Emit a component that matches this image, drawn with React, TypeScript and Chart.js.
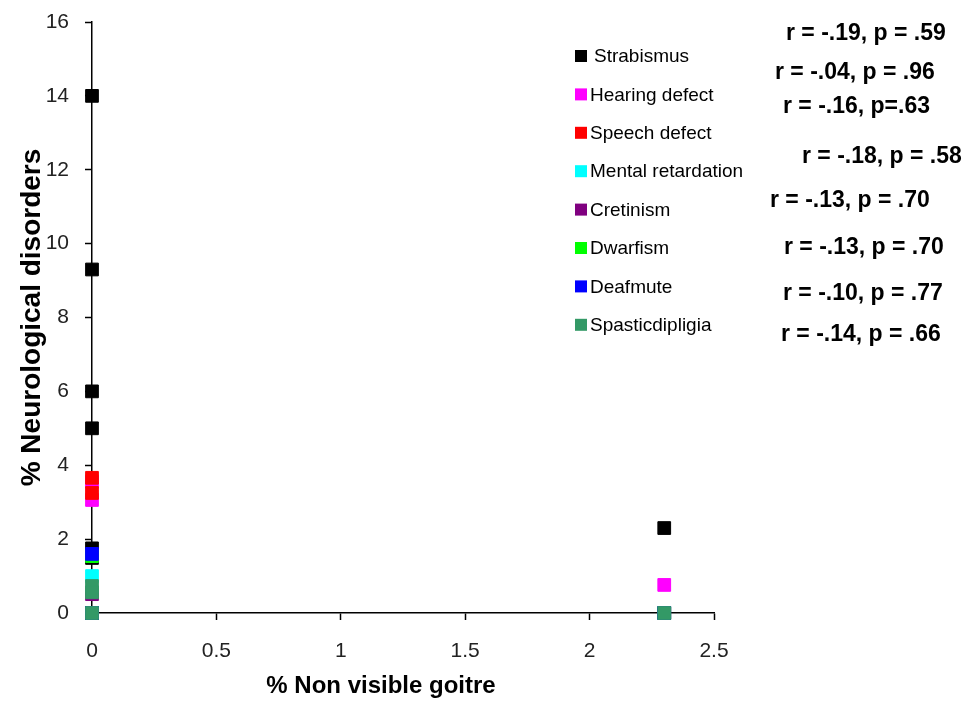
import React, { useEffect, useRef } from "react";
import { Chart, registerables } from "chart.js";

Chart.register(...registerables);

// ---------- data ----------
const seriesNames = [
  "Strabismus",
  "Hearing defect",
  "Speech defect",
  "Mental retardation",
  "Cretinism",
  "Dwarfism",
  "Deafmute",
  "Spasticdipligia",
];
const seriesColors = [
  "#000000",
  "#FF00FF",
  "#FF0000",
  "#00FFFF",
  "#800080",
  "#00FF00",
  "#0000FF",
  "#339966",
];

const strabismusX = [0, 0, 0, 0, 0, 0, 0, 2.3];
const strabismusY = [14, 9.3, 6, 5, 1.75, 1.49, 0, 2.3];
const hearingX = [0, 0, 0, 2.3];
const hearingY = [3.56, 3.06, 0, 0.76];
const speechX = [0, 0, 0, 2.3];
const speechY = [3.66, 3.25, 0, 0];
const mentalX = [0, 0, 2.3];
const mentalY = [1.0, 0, 0];
const cretinismX = [0, 0, 2.3];
const cretinismY = [0.51, 0, 0];
const dwarfismX = [0, 0, 2.3];
const dwarfismY = [1.54, 0, 0];
const deafmuteX = [0, 0, 2.3];
const deafmuteY = [1.6, 0, 0];
const spasticX = [0, 0, 0, 2.3];
const spasticY = [0.73, 0.56, 0, 0];

const seriesX = [strabismusX, hearingX, speechX, mentalX, cretinismX, dwarfismX, deafmuteX, spasticX];
const seriesY = [strabismusY, hearingY, speechY, mentalY, cretinismY, dwarfismY, deafmuteY, spasticY];

const correlationLabels = [
  "r = -.19, p = .59",
  "r = -.04, p = .96",
  "r = -.16, p=.63",
  "r = -.18, p = .58",
  "r = -.13, p = .70",
  "r = -.13, p = .70",
  "r = -.10, p = .77",
  "r = -.14, p = .66",
];

const xTitle = "% Non visible goitre";
const yTitle = "% Neurological disorders";
const xMin = 0, xMax = 2.5, xStep = 0.5;
const yMin = 0, yMax = 16, yStep = 2;

// ---------- layout (label placement only) ----------
const FONT = "'Liberation Sans', Arial, Helvetica, sans-serif";
const annotationPos: [number, number][] = [
  [786, 34],
  [775, 73],
  [783, 107],
  [802, 157],
  [770, 201],
  [784, 248],
  [783, 294],
  [781, 335],
];
const legendLeft = 575;
const legendTop = 56;
const legendStep = 38.4;
const legendBox = 12;
const xTitleShift = -22;
const xTitleY = 686;

const overlayPlugin = {
  id: "overlay",
  afterDraw(chart: any) {
    const ctx = chart.ctx as CanvasRenderingContext2D;
    const area = chart.chartArea;
    ctx.save();
    // x axis title
    ctx.textBaseline = "middle";
    ctx.textAlign = "center";
    ctx.fillStyle = "#000";
    ctx.font = `bold 24px ${FONT}`;
    ctx.fillText(xTitle, (area.left + area.right) / 2 + xTitleShift, xTitleY);
    // legend
    ctx.textAlign = "left";
    ctx.font = `19px ${FONT}`;
    seriesNames.forEach((name, i) => {
      const cy = legendTop + i * legendStep;
      ctx.fillStyle = seriesColors[i];
      ctx.fillRect(legendLeft, cy - legendBox / 2, legendBox, legendBox);
      ctx.fillStyle = "#000";
      ctx.fillText(name, legendLeft + legendBox + (i === 0 ? 7 : 3), cy + 1);
    });
    // correlation annotations
    ctx.font = `bold 23px ${FONT}`;
    correlationLabels.forEach((t, i) => {
      const [x, y] = annotationPos[i];
      ctx.fillStyle = "#000";
      ctx.fillText(t, x, y);
    });
    ctx.restore();
  },
};

export default function App() {
  const ref = useRef<HTMLCanvasElement | null>(null);

  useEffect(() => {
    document.body.style.margin = "0";
    const canvas = ref.current;
    if (!canvas) return;
    const datasets = seriesNames.map((name, i) => ({
      label: name,
      data: seriesX[i].map((x, k) => ({ x, y: seriesY[i][k] })),
      backgroundColor: seriesColors[i],
      borderColor: seriesColors[i],
      borderWidth: 1,
      pointStyle: "rect",
      pointRadius: 9,
      pointHoverRadius: 9,
      showLine: false,
      clip: false,
      order: seriesNames.length - i,
    }));

    const chart = new Chart(canvas, {
      type: "scatter",
      data: { datasets },
      plugins: [overlayPlugin],
      options: {
        animation: false,
        responsive: false,
        maintainAspectRatio: false,
        layout: { padding: { top: 22, right: 255, left: 0, bottom: 0 } },
        plugins: {
          legend: { display: false },
          tooltip: { enabled: false },
        },
        scales: {
          x: {
            type: "linear",
            min: xMin,
            max: xMax,
            afterFit: (s: any) => {
              s.height = 90;
              s.paddingLeft = 0;
              s.paddingRight = 0;
            },
            ticks: {
              stepSize: xStep,
              color: "#222",
              font: { family: FONT, size: 21 },
              padding: 19,
              maxRotation: 0,
              callback: (v: any) => String(Number(v)),
            },
            grid: {
              display: true,
              drawOnChartArea: false,
              drawTicks: true,
              tickLength: 7,
              tickColor: "#000",
              tickWidth: 1.5,
            },
            border: { display: true, color: "#000", width: 1.5 },
            title: { display: false, text: xTitle },
          },
          y: {
            type: "linear",
            min: yMin,
            max: yMax,
            afterFit: (s: any) => {
              s.width = 92;
              s.paddingTop = 0;
              s.paddingBottom = 0;
            },
            ticks: {
              stepSize: yStep,
              color: "#222",
              font: { family: FONT, size: 21 },
              padding: 16,
            },
            grid: {
              display: true,
              drawOnChartArea: false,
              drawTicks: true,
              tickLength: 7,
              tickColor: "#000",
              tickWidth: 1.5,
            },
            border: { display: true, color: "#000", width: 1.5 },
            title: {
              display: true,
              text: yTitle,
              color: "#000",
              font: { family: FONT, size: 28, weight: "bold" },
              padding: { top: 15, bottom: 0 },
            },
          },
        },
      },
    } as any);

    return () => chart.destroy();
  }, []);

  return (
    <div style={{ position: "relative", width: 969, height: 703, background: "#fff" }}>
      <canvas ref={ref} width={969} height={703} style={{ display: "block" }} />
    </div>
  );
}
